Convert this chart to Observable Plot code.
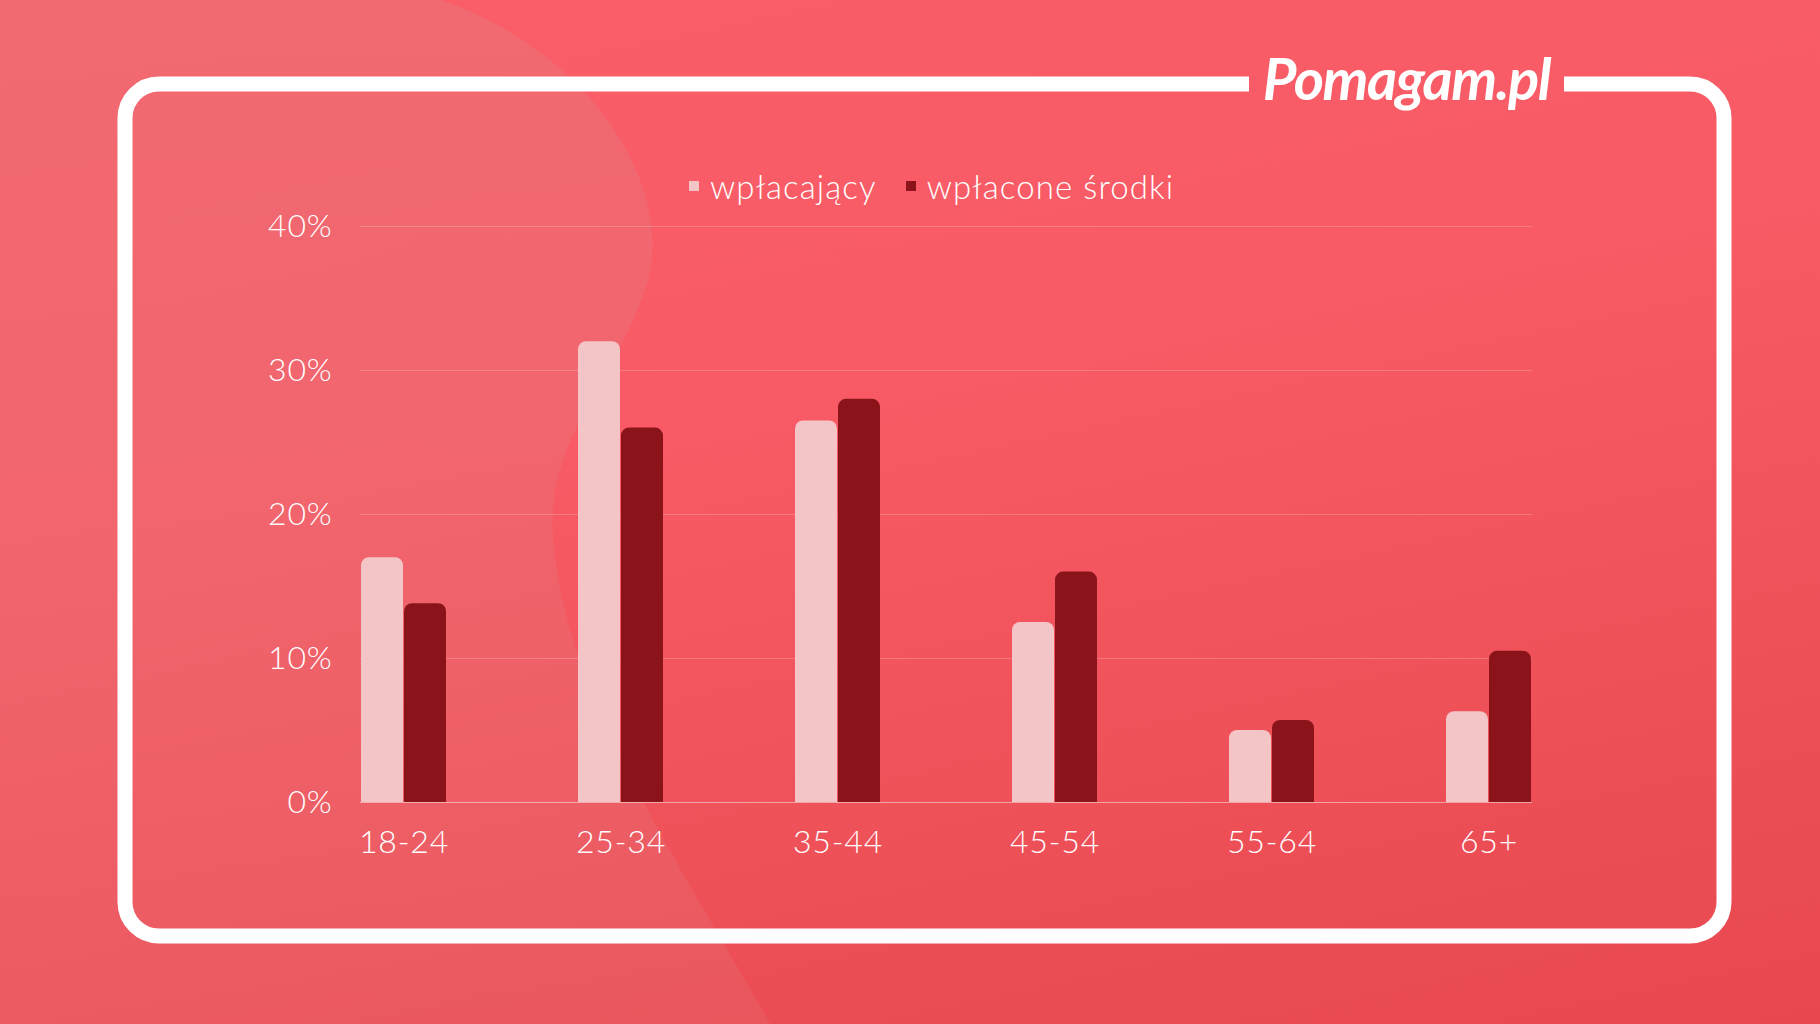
<!DOCTYPE html>
<html>
<head>
<meta charset="utf-8">
<script src="https://cdn.jsdelivr.net/npm/d3@7"></script>
<script src="https://cdn.jsdelivr.net/npm/@observablehq/plot@0.6"></script>
<style>
html,body{margin:0;padding:0;width:1820px;height:1024px;overflow:hidden;font-family:Lato,"Open Sans",sans-serif;}
#bg{position:absolute;left:0;top:0;width:1820px;height:1024px;background:linear-gradient(168deg,#fa5e68 0%,#f85b65 40%,#ef5159 72%,#e8474e 100%);}
#deco{position:absolute;left:0;top:0;}
.layer{position:absolute;left:0;top:0;}
#legend{position:absolute;left:689px;top:166px;display:flex;align-items:center;color:#fff;font-size:33px;font-weight:300;line-height:40px;letter-spacing:1.1px;}
.item{display:flex;align-items:center;margin-right:29px;}
.sw{width:10px;height:10px;margin-right:11px;}
#logo{position:absolute;left:1249px;top:42px;width:315px;text-align:center;color:#fff;font-family:Lato,sans-serif;font-style:italic;font-weight:700;font-size:58px;line-height:72px;letter-spacing:-1.5px;}
</style>
</head>
<body>
<div id="bg"></div>
<svg id="deco" width="1820" height="1024" viewBox="0 0 1820 1024">
  <defs>
    <linearGradient id="blobg" x1="0" y1="0" x2="0" y2="1">
      <stop offset="0" stop-color="rgb(222,132,136)" stop-opacity="0.3"/>
      <stop offset="1" stop-color="rgb(222,132,136)" stop-opacity="0.18"/>
    </linearGradient>
  </defs>
  <path d="M0 0 L440 0 C590 50 680 190 645 290 C615 380 545 440 553 540 C565 700 690 880 770 1024 L0 1024 Z" fill="url(#blobg)"/>
  <path d="M1249 84 L159 84 A34 34 0 0 0 125 118 L125 902 A34 34 0 0 0 159 936 L1690 936 A34 34 0 0 0 1724 902 L1724 118 A34 34 0 0 0 1690 84 L1564 84" fill="none" stroke="#fff" stroke-width="15"/>
</svg>
<div id="base" class="layer"></div>
<div id="bars" class="layer"></div>
<div id="legend"></div>
<div id="logo">Pomagam.pl</div>
<script>
const ageGroups = ["18-24", "25-34", "35-44", "45-54", "55-64", "65+"];
const seriesNames = ["wpłacający", "wpłacone środki"];
const donorsShare = [17.0, 32.0, 26.5, 12.5, 5.0, 6.3];
const fundsShare = [13.8, 26.0, 28.0, 16.0, 5.7, 10.5];
const yTicks = [0, 10, 20, 30, 40];
const seriesColors = ["#f4c5c7", "#8b141b"];

const data = ageGroups.flatMap((g, i) => [
  {group: g, series: seriesNames[0], value: donorsShare[i]},
  {group: g, series: seriesNames[1], value: fundsShare[i]}
]);

const frame = {
  width: 1820,
  height: 1024,
  marginLeft: 360,
  marginRight: 288,
  marginTop: 226,
  marginBottom: 222,
  style: {background: "transparent", color: "#fff", fontFamily: "Lato, sans-serif", fontSize: "32px", fontWeight: 300, letterSpacing: "0.8px", overflow: "visible"}
};
const groupBand = {type: "band", domain: ageGroups, paddingInner: 0.61, paddingOuter: 0, label: null};

// grid, axes and category labels
const base = Plot.plot({
  ...frame,
  x: groupBand,
  y: {domain: [0, 40], ticks: yTicks, label: null},
  marks: [
    Plot.gridY(yTicks, {stroke: "#fff", strokeOpacity: 0.2, strokeWidth: 1}),
    Plot.ruleY([0], {stroke: "#fff", strokeOpacity: 0.35}),
    Plot.axisY(yTicks, {tickSize: 0, tickPadding: 28, tickFormat: d => d + "%", label: null, fontSize: 32}),
    Plot.axisX({tickSize: 0, tickPadding: 28, label: null, fontSize: 32})
  ]
});
document.getElementById("base").appendChild(base);

// grouped bars (same frame and scales)
const bars = Plot.plot({
  ...frame,
  fx: {...groupBand, axis: null},
  x: {domain: seriesNames, paddingInner: 0.03, paddingOuter: 0, axis: null},
  y: {domain: [0, 40], axis: null},
  color: {domain: seriesNames, range: seriesColors},
  marks: [
    Plot.barY(data, {fx: "group", x: "series", y: "value", fill: "series", ry1: 8})
  ]
});
document.getElementById("bars").appendChild(bars);

const legend = document.getElementById("legend");
seriesNames.forEach((name, i) => {
  const item = document.createElement("div");
  item.className = "item";
  const sw = document.createElement("span");
  sw.className = "sw";
  sw.style.background = seriesColors[i];
  const t = document.createElement("span");
  t.textContent = name;
  item.appendChild(sw);
  item.appendChild(t);
  legend.appendChild(item);
});
</script>
</body>
</html>
